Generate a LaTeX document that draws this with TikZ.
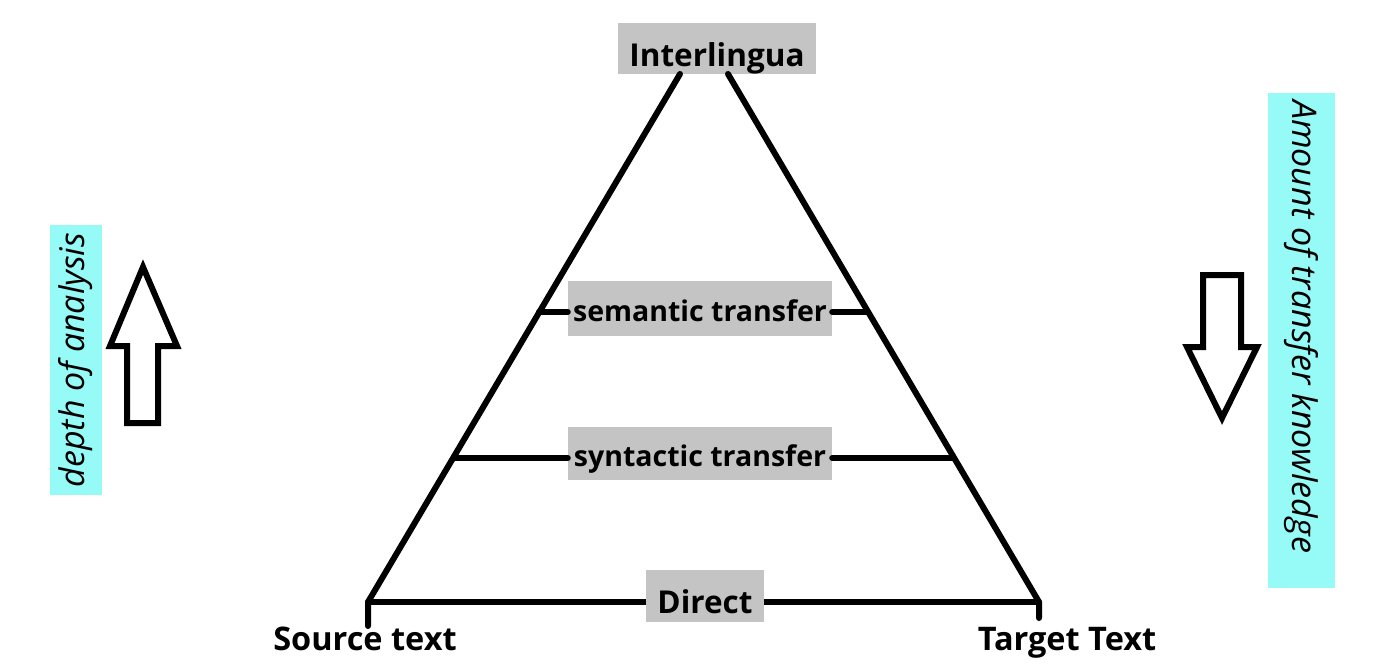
\documentclass[tikz,border=0pt]{standalone}
\usepackage{fontspec}
\setmainfont{Open Sans}
\definecolor{boxgray}{RGB}{196,196,196}
\definecolor{cyanbox}{RGB}{150,250,247}
\newcommand{\lowertext}[2]{\raisebox{-#1}[24pt][8pt]{#2}}
\tikzset{
  edge/.style={line width=6pt, line cap=round, line join=round},
  graybox/.style={fill=boxgray, inner sep=0pt, font=\fontsize{31.5}{31.5}\selectfont\bfseries},
  levelbox/.style={graybox, font=\fontsize{28.5}{28.5}\selectfont\bfseries},
  lbl/.style={inner sep=0pt, anchor=base, font=\fontsize{32.5}{32.5}\selectfont\bfseries},
  sidebox/.style={fill=cyanbox, inner sep=0pt, font=\fontsize{34}{34}\selectfont\itshape},
  blockarrow/.style={line width=6pt, line join=miter, fill=white}
}
\begin{document}
\begin{tikzpicture}[x=1pt,y=-1pt]
\useasboundingbox (0,0) rectangle (1389,667);
% triangle corners
\coordinate (apexL) at (680,74);
\coordinate (apexR) at (728,74);
\coordinate (src) at (368,602);
\coordinate (tgt) at (1039,602);
\coordinate (srcTick) at (368,626);
\coordinate (tgtTick) at (1039,618);
\coordinate (semL) at (539,312);
\coordinate (semR) at (868,312);
\coordinate (synL) at (454,458);
\coordinate (synR) at (953,458);
% boxes
\node[graybox, minimum width=198pt, minimum height=51pt] (inter) at (717,48.5) {\lowertext{10pt}{Interlingua}};
\node[levelbox, minimum width=264pt, minimum height=55pt] (sem) at (700,308.5) {\lowertext{5pt}{semantic transfer}};
\node[levelbox, minimum width=264pt, minimum height=53pt] (syn) at (700,453.5) {\lowertext{5pt}{syntactic transfer}};
% lines
\draw[edge] (apexL) -- (src) -- (srcTick);
\draw[edge] (apexR) -- (tgt) -- (tgtTick);
\draw[edge] (src) -- (tgt);
\draw[edge] (semL) -- (sem.west |- semL);
\draw[edge] (sem.east |- semR) -- (semR);
\draw[edge] (synL) -- (syn.west |- synL);
\draw[edge] (syn.east |- synR) -- (synR);
\node[graybox, minimum width=118pt, minimum height=52pt] (direct) at (705,596) {\lowertext{9pt}{Direct}};
\node[lbl] (srcText) at (365,650) {Source text};
\node[lbl] (tgtText) at (1067,650) {Target Text};
% side boxes
\node[sidebox, rotate=90, minimum width=270pt, minimum height=52pt] (depth) at (76,360) {depth of analysis};
\node[sidebox, rotate=-90, minimum width=495pt, minimum height=67pt] (amount) at (1301.5,340.5) {\hspace*{-28pt}Amount of transfer knowledge};
% block arrows
\draw[blockarrow] (143,267) -- (177,346) -- (158,346) -- (158,423) -- (127,423) -- (127,346) -- (110,346) -- cycle;
\draw[blockarrow] (1203,275) -- (1241,275) -- (1241,347) -- (1257,347) -- (1222,418) -- (1187,347) -- (1203,347) -- cycle;
\end{tikzpicture}
\end{document}
